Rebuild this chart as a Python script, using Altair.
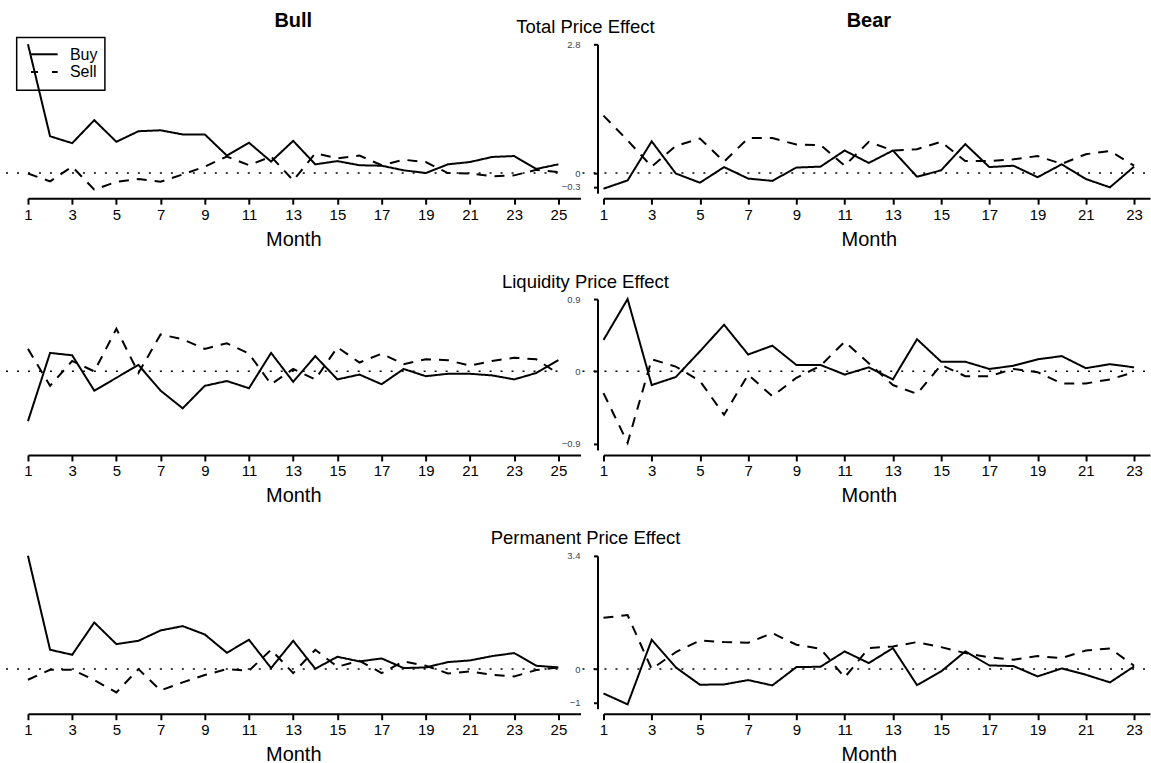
import altair as alt
import pandas as pd

FONT = "Liberation Sans"

# ---------------- data ----------------
months_bull = list(range(1, 26))
months_bear = list(range(1, 24))
series_names = ["Buy", "Sell"]
col_titles = ["Bull", "Bear"]
row_titles = ["Total Price Effect", "Liquidity Price Effect", "Permanent Price Effect"]

total_bull_buy = [2.80, 0.80, 0.65, 1.15, 0.68, 0.91, 0.93, 0.84, 0.84, 0.38, 0.66, 0.25, 0.70,
                  0.19, 0.26, 0.17, 0.16, 0.06, 0.00, 0.19, 0.24, 0.35, 0.37, 0.09, 0.19]
total_bull_sell = [-0.01, -0.18, 0.14, -0.36, -0.19, -0.13, -0.19, -0.03, 0.14, 0.36, 0.17, 0.36, -0.16,
                   0.43, 0.32, 0.38, 0.17, 0.29, 0.24, 0.00, -0.01, -0.07, -0.05, 0.07, 0.02]
total_bear_buy = [-0.34, -0.16, 0.69, -0.01, -0.21, 0.13, -0.12, -0.17, 0.12, 0.14, 0.49, 0.22,
                  0.49, -0.08, 0.06, 0.63, 0.13, 0.16, -0.09, 0.19, -0.13, -0.31, 0.14]
total_bear_sell = [1.25, 0.71, 0.14, 0.59, 0.75, 0.25, 0.76, 0.76, 0.62, 0.61, 0.16, 0.68,
                   0.49, 0.52, 0.68, 0.26, 0.26, 0.30, 0.37, 0.20, 0.41, 0.48, 0.16]

liq_bull_buy = [-0.62, 0.23, 0.20, -0.24, -0.08, 0.08, -0.24, -0.46, -0.18, -0.12, -0.21, 0.23, -0.13,
                0.19, -0.10, -0.04, -0.16, 0.03, -0.06, -0.03, -0.03, -0.05, -0.10, -0.02, 0.14]
liq_bull_sell = [0.28, -0.18, 0.13, 0.00, 0.53, -0.02, 0.46, 0.40, 0.28, 0.35, 0.22, -0.16, 0.03,
                 -0.10, 0.30, 0.11, 0.22, 0.09, 0.15, 0.14, 0.07, 0.13, 0.17, 0.15, -0.03]
liq_bear_buy = [0.39, 0.90, -0.17, -0.07, 0.25, 0.58, 0.21, 0.32, 0.08, 0.08, -0.04, 0.05,
                -0.10, 0.40, 0.12, 0.12, 0.03, 0.07, 0.15, 0.19, 0.04, 0.09, 0.05]
liq_bear_sell = [-0.27, -0.89, 0.15, 0.06, -0.12, -0.54, -0.04, -0.31, -0.08, 0.07, 0.37, 0.10,
                 -0.17, -0.28, 0.08, -0.06, -0.06, 0.03, -0.01, -0.15, -0.15, -0.10, -0.01]

perm_bull_buy = [3.40, 0.58, 0.43, 1.40, 0.75, 0.85, 1.16, 1.29, 1.04, 0.49, 0.88, 0.03, 0.85,
                 0.01, 0.37, 0.23, 0.32, 0.03, 0.05, 0.21, 0.26, 0.39, 0.48, 0.10, 0.05]
perm_bull_sell = [-0.32, -0.02, -0.02, -0.33, -0.70, 0.00, -0.64, -0.40, -0.18, 0.00, -0.05, 0.58, -0.12,
                  0.58, 0.07, 0.25, -0.12, 0.23, 0.10, -0.13, -0.07, -0.17, -0.22, -0.03, 0.05]
perm_bear_buy = [-0.73, -1.06, 0.88, 0.05, -0.47, -0.46, -0.33, -0.49, 0.06, 0.07, 0.53, 0.18,
                 0.63, -0.48, -0.07, 0.53, 0.11, 0.09, -0.22, 0.02, -0.17, -0.40, 0.08]
perm_bear_sell = [1.54, 1.62, 0.00, 0.51, 0.86, 0.81, 0.79, 1.08, 0.73, 0.61, -0.25, 0.63,
                  0.68, 0.81, 0.66, 0.48, 0.35, 0.28, 0.39, 0.33, 0.56, 0.62, 0.10]

# y-axis labelled values per row: (top, bottom)
row_ticks = [(2.8, -0.3), (0.9, -0.9), (3.4, -1.0)]

# ---------------- layout / style ----------------
LEFT_W, RIGHT_W = 553, 547
ROW_H = [149, 151, 153]
Y_MIN = [-0.437, -0.978, -1.19]
DASH = [10, 8]
DOT = [2, 9]


def frame(months, buy, sell):
    return pd.DataFrame({
        "month": months * 2,
        "value": buy + sell,
        "series": [series_names[0]] * len(buy) + [series_names[1]] * len(sell),
    })


def make_panel(df, side, r):
    top, bot = row_ticks[r]
    yscale = alt.Scale(domain=[Y_MIN[r], top], nice=False, zero=False)
    if side == "left":
        xdom, xvals, width, tx = [1, 26], list(range(1, 26, 2)), LEFT_W, 265.5
        yaxis = None
    else:
        xdom, xvals, width, tx = [1, 23.66], list(range(1, 24, 2)), RIGHT_W, 265.6
        yaxis = alt.Axis(values=[top, 0, bot], labelExpr="format(datum.value, '.1~f')",
                         orient="left", offset=6,
                         domainWidth=2, domainColor="black", tickWidth=2, tickColor="black",
                         tickSize=4, labelFontSize=9.5, labelColor="#444", labelPadding=13.5,
                         labelFlush=False, labelOverlap=False, labelFont=FONT, title=None,
                         grid=False)
    xaxis = alt.Axis(values=xvals, format="d", offset=5, domainWidth=2, domainColor="black",
                     tickWidth=2, tickColor="black", tickSize=6, labelFontSize=15,
                     labelFont=FONT, labelColor="black", labelPadding=3, labelFlush=False,
                     labelOverlap=False, title="Month", titleFontSize=20, titleFont=FONT,
                     titleFontWeight="normal", titleColor="black", titleX=tx, titleY=41,
                     titleBaseline="middle", grid=False)
    xenc = alt.X("month:Q", scale=alt.Scale(domain=xdom, nice=False, zero=False), axis=xaxis)
    yenc = alt.Y("value:Q", scale=yscale, axis=yaxis)

    lines = alt.Chart(df).mark_line(color="black", strokeWidth=2, clip=False).encode(
        x=xenc, y=yenc,
        strokeDash=alt.StrokeDash("series:N", scale=alt.Scale(domain=series_names,
                                                               range=[[1, 0], DASH]), legend=None),
    )
    zero = alt.Chart(pd.DataFrame({"value": [0]})).mark_rule(
        color="black", strokeWidth=1.5, strokeDash=DOT).encode(
        y=yenc,
        x=alt.value(-22 if side == "left" else -21),
        x2=alt.value(535 if side == "left" else width),
    )
    layers = [zero, lines]

    if r == 0:
        layers.append(alt.Chart(pd.DataFrame({"t": [col_titles[0 if side == "left" else 1]]}))
                      .mark_text(fontSize=20, fontWeight="bold", font=FONT, color="black",
                                 baseline="middle", align="center")
                      .encode(text="t:N", x=alt.value(tx), y=alt.value(-23)))
    if side == "left":
        layers.append(alt.Chart(pd.DataFrame({"t": [row_titles[r]]}))
                      .mark_text(fontSize=18.5, font=FONT, color="black",
                                 baseline="middle", align="center")
                      .encode(text="t:N", x=alt.value(558), y=alt.value(-17.5)))
    if r == 0 and side == "left":
        box = alt.Chart(pd.DataFrame({"k": [0]})).mark_rect(
            fill="white", fillOpacity=0, stroke="black", strokeWidth=1.5).encode(
            x=alt.value(-11.3), x2=alt.value(77), y=alt.value(-6.7), y2=alt.value(46))
        buy_line = alt.Chart(pd.DataFrame({"k": [0]})).mark_rule(
            color="black", strokeWidth=2).encode(
            x=alt.value(3), x2=alt.value(29.7), y=alt.value(10))
        sell_line = alt.Chart(pd.DataFrame({"k": [0]})).mark_rule(
            color="black", strokeWidth=2, strokeDash=[7, 14]).encode(
            x=alt.value(3), x2=alt.value(29.7), y=alt.value(27.7))
        buy_txt = alt.Chart(pd.DataFrame({"t": [series_names[0]]})).mark_text(
            fontSize=16, font=FONT, align="left", baseline="middle", color="black").encode(
            text="t:N", x=alt.value(42), y=alt.value(10.5))
        sell_txt = alt.Chart(pd.DataFrame({"t": [series_names[1]]})).mark_text(
            fontSize=16, font=FONT, align="left", baseline="middle", color="black").encode(
            text="t:N", x=alt.value(42), y=alt.value(28))
        layers = [box, buy_line, sell_line, buy_txt, sell_txt] + layers

    return alt.layer(*layers).properties(width=width, height=ROW_H[r])


data_rows = [
    (frame(months_bull, total_bull_buy, total_bull_sell), frame(months_bear, total_bear_buy, total_bear_sell)),
    (frame(months_bull, liq_bull_buy, liq_bull_sell), frame(months_bear, liq_bear_buy, liq_bear_sell)),
    (frame(months_bull, perm_bull_buy, perm_bull_sell), frame(months_bear, perm_bear_buy, perm_bear_sell)),
]

panels = []
for r, (dl, dr) in enumerate(data_rows):
    panels.append(make_panel(dl, "left", r))
    panels.append(make_panel(dr, "right", r))

chart = alt.concat(*panels, columns=2, spacing={"row": 106, "column": 23},
                   bounds="flush").properties(
    padding={"left": 5, "top": 11, "right": 0, "bottom": 0}
).configure(font=FONT).configure_view(strokeWidth=0)

chart.save("out.html", embed_options={"renderer": "svg", "actions": False})
